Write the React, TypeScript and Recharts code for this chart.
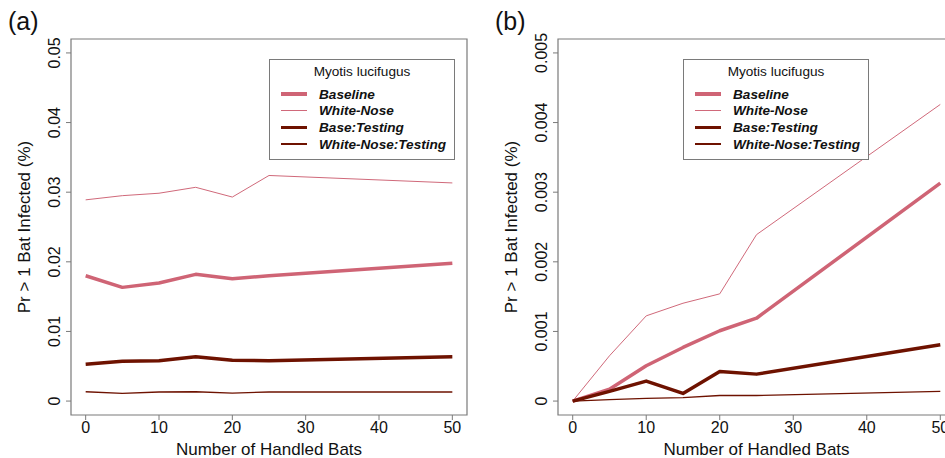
import React from "react";
import { LineChart, Line, XAxis, YAxis, ReferenceArea } from "recharts";

const xs = [0, 5, 10, 15, 20, 25, 50];
const seriesNames = ["Baseline", "White-Nose", "Base:Testing", "White-Nose:Testing"];
const seriesColors = ["#cf6475", "#d0697a", "#6e1200", "#6e1200"];
const seriesWidths = [3.5, 1, 3.5, 1.3];

// panel (a)
const aBaseline = [0.018, 0.01633, 0.01695, 0.0182, 0.01757, 0.018, 0.0198];
const aWhiteNose = [0.0289, 0.0295, 0.02985, 0.0307, 0.0293, 0.0324, 0.03133];
const aBaseTesting = [0.0053, 0.00573, 0.00578, 0.00635, 0.00587, 0.00578, 0.00635];
const aWNTesting = [0.00134, 0.0011, 0.0013, 0.00134, 0.00115, 0.0013, 0.0013];

// panel (b)
const bBaseline = [0, 0.00017, 0.000507, 0.00077, 0.00101, 0.00119, 0.00313];
const bWhiteNose = [0, 0.00065, 0.001224, 0.001405, 0.00154, 0.00239, 0.00426];
const bBaseTesting = [0, 0.00014, 0.000287, 0.00011, 0.000425, 0.000387, 0.00081];
const bWNTesting = [0, 0.00002, 0.00004, 0.00005, 0.00008, 0.00008, 0.00014];

const xTicks = [0, 10, 20, 30, 40, 50];
const aYTicks = [0, 0.01, 0.02, 0.03, 0.04, 0.05];
const bYTicks = [0, 0.001, 0.002, 0.003, 0.004, 0.005];

const legendTitle = "Myotis lucifugus";
const xTitle = "Number of Handled Bats";
const yTitle = "Pr > 1 Bat Infected (%)";

const FONT = "'Liberation Sans', Arial, sans-serif";
const AXIS = "#7a7a7a";

const keys = ["s0", "s1", "s2", "s3"];

function buildRows(series: number[][]) {
  return xs.map((x, i) => {
    const row: Record<string, number> = { x };
    series.forEach((s, j) => (row[keys[j]] = s[i]));
    return row;
  });
}

const YTick = (props: any) => {
  const { x, y, payload } = props;
  return (
    <text
      x={x}
      y={y}
      transform={`rotate(-90, ${x}, ${y})`}
      textAnchor="middle"
      fontSize={16}
      fontFamily={FONT}
      fill="#111"
    >
      {String(payload.value)}
    </text>
  );
};

function Legend({ left }: { left: number }) {
  return (
    <div
      style={{
        position: "absolute",
        left,
        top: 59,
        width: 186,
        height: 101,
        border: `1px solid ${AXIS}`,
        boxSizing: "border-box",
        background: "#fff",
        fontFamily: FONT,
      }}
    >
      <div
        style={{
          position: "absolute",
          left: 0,
          width: "100%",
          top: 3,
          textAlign: "center",
          fontSize: 13.6,
          lineHeight: "17px",
          color: "#111",
        }}
      >
        {legendTitle}
      </div>
      {seriesNames.map((name, i) => {
        const cy = 34 + i * 16.7;
        return (
          <React.Fragment key={name}>
            <div
              style={{
                position: "absolute",
                left: 11,
                width: 26,
                top: cy - seriesWidths[i] / 2,
                height: seriesWidths[i],
                background: seriesColors[i],
              }}
            />
            <div
              style={{
                position: "absolute",
                left: 49,
                top: cy - 8.5,
                fontSize: 13.6,
                lineHeight: "17px",
                fontWeight: "bold",
                fontStyle: "italic",
                color: "#111",
                whiteSpace: "nowrap",
              }}
            >
              {name}
            </div>
          </React.Fragment>
        );
      })}
    </div>
  );
}

function Panel({
  left,
  width,
  yWidth,
  tag,
  series,
  yTicks,
  yDomain,
}: {
  left: number;
  width: number;
  yWidth: number;
  tag: string;
  series: number[][];
  yTicks: number[];
  yDomain: [number, number];
}) {
  const data = buildRows(series);
  const plotCx = yWidth + (width - 3 - yWidth) / 2;
  return (
    <div style={{ position: "absolute", left, top: 0, width, height: 458 }}>
      <LineChart
        width={width}
        height={458}
        data={data}
        margin={{ top: 39, right: 3, left: 0, bottom: 0 }}
      >
        <ReferenceArea
          x1={-2}
          x2={52}
          y1={yDomain[0]}
          y2={yDomain[1]}
          fill="none"
          stroke={AXIS}
          strokeWidth={1.2}
          ifOverflow="visible"
        />
        <XAxis
          dataKey="x"
          type="number"
          domain={[-2, 52]}
          ticks={xTicks}
          height={43}
          axisLine={false}
          tickLine={{ stroke: AXIS }}
          tickSize={5}
          tickMargin={2}
          tick={{ fontSize: 16, fontFamily: FONT, fill: "#111" }}
          label={{
            content: () => (
              <text
                x={plotCx}
                y={455}
                textAnchor="middle"
                fontSize={17}
                fontFamily={FONT}
                fill="#111"
              >
                {xTitle}
              </text>
            ),
          }}
        />
        <YAxis
          type="number"
          domain={yDomain}
          ticks={yTicks}
          width={yWidth}
          axisLine={false}
          tickLine={{ stroke: AXIS }}
          tickSize={5}
          tickMargin={6}
          tick={<YTick />}
          label={{
            content: () => (
              <text
                x={yWidth - 41}
                y={227}
                transform={`rotate(-90, ${yWidth - 41}, 227)`}
                textAnchor="middle"
                fontSize={17}
                fontFamily={FONT}
                fill="#111"
              >
                {yTitle}
              </text>
            ),
          }}
        />
        {keys.map((k, i) => (
          <Line
            key={k}
            dataKey={k}
            name={seriesNames[i]}
            type="linear"
            stroke={seriesColors[i]}
            strokeWidth={seriesWidths[i]}
            strokeLinejoin="round"
            dot={false}
            activeDot={false}
            isAnimationActive={false}
          />
        ))}
      </LineChart>
      <div
        style={{
          position: "absolute",
          left: yWidth - 63,
          top: 9,
          fontSize: 25,
          lineHeight: "25px",
          fontFamily: FONT,
          color: "#111",
        }}
      >
        {tag}
      </div>
    </div>
  );
}

export default function App() {
  return (
    <div
      style={{
        position: "absolute",
        left: 0,
        top: 0,
        width: 945,
        height: 458,
        overflow: "hidden",
        background: "#fff",
      }}
    >
      <Panel
        left={0}
        width={470}
        yWidth={71}
        tag="(a)"
        series={[aBaseline, aWhiteNose, aBaseTesting, aWNTesting]}
        yTicks={aYTicks}
        yDomain={[-0.002, 0.052]}
      />
      <Panel
        left={475}
        width={483}
        yWidth={83}
        tag="(b)"
        series={[bBaseline, bWhiteNose, bBaseTesting, bWNTesting]}
        yTicks={bYTicks}
        yDomain={[-0.0002, 0.0052]}
      />
      <Legend left={269} />
      <Legend left={683} />
    </div>
  );
}
